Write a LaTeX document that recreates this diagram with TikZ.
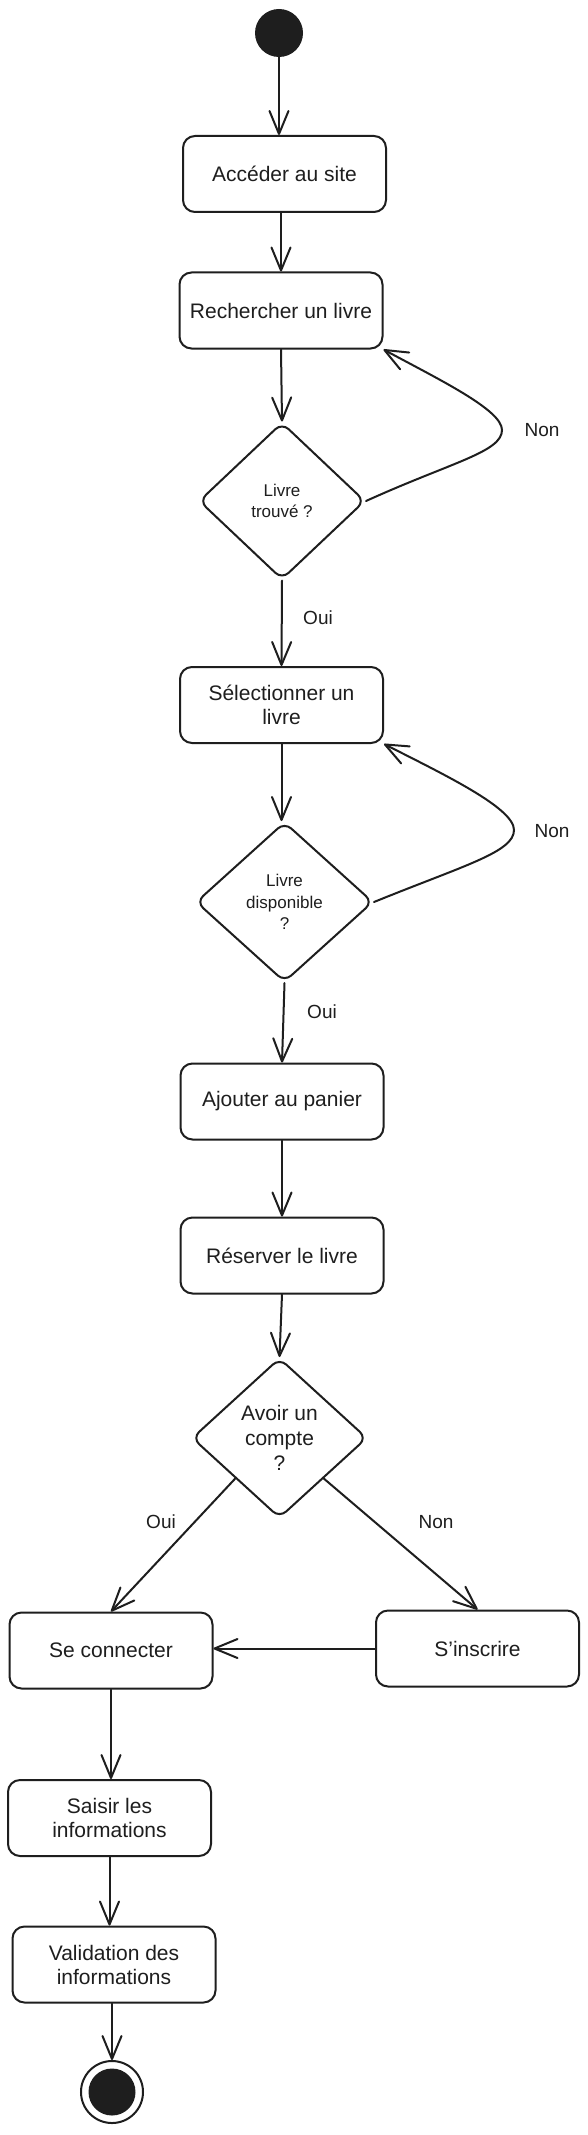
\documentclass[tikz,border=0pt]{standalone}
\usepackage{fontspec}
\setmainfont{Liberation Sans}
\usetikzlibrary{shapes.geometric,arrows.meta,calc}
\definecolor{ink}{HTML}{1E1E1E}
\begin{document}
\begin{tikzpicture}[x=1pt,y=-1pt,
  every node/.style={text=ink},
  actbox/.style={draw=ink,line width=2pt,rounded corners=12pt,minimum width=203pt,minimum height=76pt,inner sep=0pt,align=center,font=\fontsize{21}{24}\selectfont},
  decis/.style={draw=ink,line width=2pt,diamond,rounded corners=9pt,inner sep=0pt,align=center},
  smalltxt/.style={font=\fontsize{17}{21.5}\selectfont},
  bigtxt/.style={font=\fontsize{21}{25}\selectfont},
  flow/.style={draw=ink,line width=2pt,line cap=round,-{Straight Barb[length=23pt,width=19pt,round]}},
  lbl/.style={font=\fontsize{19}{22}\selectfont}
]
\fill[white] (0,0) rectangle (587,2135);
\useasboundingbox (0,0) rectangle (587,2135);

% nodes
\node[circle,fill=ink,minimum size=48pt,inner sep=0pt] (start) at (279,33) {};
\node[actbox] (a1) at (284.5,174) {Accéder au site};
\node[actbox] (a2) at (281,310.5) {Rechercher un livre};
\node[decis,smalltxt,minimum width=166pt,minimum height=157pt] (d1) at (282,501) {Livre\\trouvé ?};
\node[actbox] (a3) at (281.5,705) {Sélectionner un\\livre};
\node[decis,smalltxt,minimum width=177pt,minimum height=160pt] (d2) at (284.5,902) {Livre\\disponible\\?};
\node[actbox] (a4) at (282,1101.5) {Ajouter au panier};
\node[actbox] (a5) at (282,1255.5) {Réserver le livre};
\node[decis,bigtxt,minimum width=175pt,minimum height=160pt] (d3) at (279.5,1438) {Avoir un\\compte\\?};
\node[actbox] (a6) at (111,1650.5) {Se connecter};
\node[actbox] (a7) at (477.5,1648.5) {S'inscrire};
\node[actbox] (a8) at (109.5,1818) {Saisir les\\informations};
\node[actbox] (a9) at (114,1964.5) {Validation des\\informations};
\node[circle,draw=ink,line width=2pt,minimum size=62pt,inner sep=0pt] (end) at (112,2092) {};
\node[circle,fill=ink,minimum size=47pt,inner sep=0pt] (endin) at (end.center) {};

% labels
\node[lbl] (n1) at (542,430) {Non};
\node[lbl] (o1) at (318,618) {Oui};
\node[lbl] (n2) at (552,831) {Non};
\node[lbl] (o2) at (322,1012) {Oui};
\node[lbl] (o3) at (161,1522) {Oui};
\node[lbl] (n3) at (436,1522) {Non};

% connectors
\draw[flow] (start.south) -- (start.south |- a1.north);
\draw[flow] (a2.north |- a1.south) -- (a2.north);
\draw[flow] (a2.south) -- (d1.north);
\draw[flow] (d1.south) -- (a3.north);
\draw[flow] (d1.east) .. controls (452,462) and (502,452) .. (502,430)
                      .. controls (502,410) and (440,380) .. (a2.south east);
\draw[flow] (a3.south) -- (a3.south |- d2.north);
\draw[flow] (d2.south) -- (a4.north);
\draw[flow] (d2.east) .. controls (465,865) and (514,852) .. (514,830)
                      .. controls (514,808) and (445,775) .. (a3.south east);
\draw[flow] (a4.south) -- (a5.north);
\draw[flow] (a5.south) -- (d3.north);
\draw[flow] (d3.south west) -- (a6.north);
\draw[flow] (d3.south east) -- (a7.north);
\draw[flow] (a7.west) -- (a7.west -| a6.east);
\draw[flow] (a6.south) -- (a6.south |- a8.north);
\draw[flow] (a8.south) -- (a8.south |- a9.north);
\draw[flow] (end.north |- a9.south) -- (end.north);
\end{tikzpicture}
\end{document}
